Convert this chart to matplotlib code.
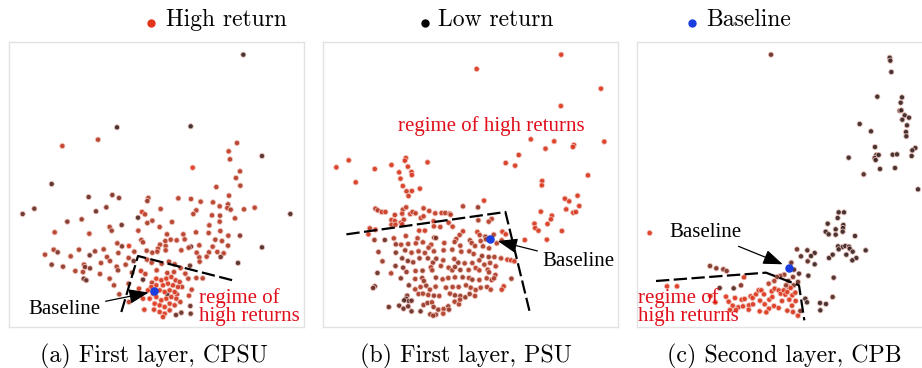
import matplotlib
matplotlib.use("Agg")
import matplotlib.pyplot as plt
from matplotlib.colors import LinearSegmentedColormap
from matplotlib.lines import Line2D

# embedding coordinates (x right, y down), c: 0 = low return, 1 = high return
CPSU_PTS = [
    (731, 73, 0), (352, 291, 0), (573, 288, 0), (295, 328, 0.6), (188, 347, 0.7), (712, 338, 0.6),
    (687, 363, 0.7), (691, 387, 0.6), (787, 377, 0.1), (579, 412, 0.95), (721, 423, 0.6), (709, 443, 0.6),
    (156, 461, 0.1), (650, 470, 0.6), (722, 466, 0.5), (267, 500, 0.2), (338, 494, 0.3), (358, 503, 0.3),
    (446, 503, 0.5), (443, 512, 0.4), (536, 504, 0.6), (574, 506, 0.6), (688, 496, 0.6), (603, 514, 0.6),
    (640, 516, 0.6), (685, 522, 0.5), (660, 528, 0.6), (683, 533, 0.6), (693, 538, 0.5), (733, 537, 0.6),
    (765, 532, 0.6), (69, 551, 0.2), (104, 535, 0.2), (289, 543, 0.2), (320, 531, 0.3), (427, 545, 0.8),
    (436, 552, 0.6), (483, 536, 0.6), (590, 540, 0.6), (581, 551, 0.6), (637, 555, 0.6), (661, 556, 0.5),
    (706, 564, 0.6), (872, 551, 0.1), (203, 574, 0.3), (246, 567, 0.4), (415, 562, 0.1), (366, 584, 0.2),
    (443, 578, 0.5), (458, 571, 0.5), (480, 590, 0.6), (517, 575, 0.6), (629, 585, 0.6), (660, 574, 0.6),
    (330, 590, 0.5), (336, 601, 0.4), (165, 606, 0.6), (269, 610, 0.6), (416, 601, 0.6), (502, 612, 0.6),
    (551, 612, 0.6), (589, 606, 0.6), (627, 608, 0.6), (662, 602, 0.6), (686, 616, 0.6), (721, 616, 0.3),
    (555, 627, 0.6), (425, 629, 0.5), (430, 636, 0.5), (497, 632, 0.6), (513, 628, 0.6), (531, 630, 0.6),
    (647, 628, 0.5), (667, 632, 0.6), (685, 646, 0.5), (388, 647, 0.95), (367, 648, 0.3), (353, 639, 0.5),
    (481, 643, 0.6), (498, 647, 0.6), (574, 649, 0.2), (599, 645, 0.6), (567, 652, 0.5), (639, 649, 0.6),
    (787, 651, 0.1), (162, 658, 0.5), (174, 666, 0.3), (238, 658, 0.5), (286, 663, 0.4), (312, 657, 0.5),
    (356, 668, 0.5), (404, 664, 0.5), (441, 661, 0.5), (458, 667, 0.5), (475, 655, 0.6), (473, 664, 0.6),
    (498, 660, 0.6), (545, 660, 0.6), (591, 667, 0.6), (628, 666, 0.6), (653, 665, 0.6), (672, 669, 0.6),
    (136, 673, 0.5), (213, 678, 0.5), (270, 675, 0.2), (322, 680, 0.5), (387, 683, 0.5), (402, 692, 0.2),
    (599, 681, 0.6), (621, 679, 0.6), (663, 680, 0.2), (600, 694, 0.6), (156, 703, 0.3), (190, 709, 0.4),
    (253, 703, 0.5), (304, 698, 0.5), (331, 692, 0.5), (351, 709, 0.5), (378, 703, 0.5), (442, 688, 0.6),
    (456, 697, 0.6), (486, 700, 0.6), (508, 694, 0.6), (525, 702, 0.6), (543, 713, 0.6), (571, 706, 0.2),
    (715, 698, 0.1), (227, 722, 0.5), (256, 710, 0.3), (271, 714, 0.3), (250, 725, 0.5), (355, 720, 0.4),
    (330, 745, 0.5), (397, 727, 0.4), (424, 722, 0.8), (437, 731, 0.7), (471, 720, 0.7), (503, 728, 0.7),
    (523, 725, 0.7), (557, 730, 0.7), (566, 745, 0.6), (590, 743, 0.6), (609, 744, 0.6), (252, 745, 0.2),
    (260, 750, 0.2), (301, 731, 0.5), (343, 765, 0.5), (430, 748, 0.1), (457, 757, 0.7), (418, 775, 0.8),
    (387, 760, 0.5), (359, 792, 0.5), (388, 815, 0.6), (430, 805, 0.9), (434, 838, 0.9), (463, 838, 0.9),
    (503, 792, 0.1), (532, 792, 0.7), (547, 770, 0.7), (568, 796, 0.7), (576, 778, 0.7), (542, 815, 0.7),
    (572, 827, 0.2), (573, 850, 0.2), (545, 847, 0.2), (529, 854, 0.2),
    (470, 745, 0.95), (485, 750, 0.9), (500, 745, 0.9), (515, 740, 0.85), (528, 750, 0.85), (540, 755, 0.8),
    (455, 770, 0.95), (470, 765, 0.95), (490, 765, 0.9), (505, 760, 0.9), (520, 765, 0.85), (535, 770, 0.8),
    (445, 780, 0.95), (460, 790, 1.0), (480, 780, 0.95), (495, 785, 0.95), (510, 780, 0.9), (525, 785, 0.85),
    (450, 805, 1.0), (470, 800, 1.0), (485, 810, 0.95), (500, 805, 0.95), (515, 800, 0.9), (530, 805, 0.85),
    (465, 820, 1.0), (480, 825, 0.95), (495, 830, 0.95), (510, 820, 0.9), (525, 825, 0.85), (480, 845, 0.95),
    (495, 850, 0.95), (510, 840, 0.9), (490, 860, 0.9),
]

PSU_PTS = [
    (738, 73, 0.95), (485, 116, 0.95), (857, 175, 0.95), (737, 227, 0.95), (647, 327, 0.95), (717, 333, 0.95),
    (867, 334, 0.95), (691, 355, 0.9), (776, 344, 0.9), (773, 350, 0.9), (611, 374, 0.9), (65, 411, 0.9),
    (102, 390, 0.9), (273, 383, 0.9), (270, 391, 0.9), (338, 396, 0.9), (572, 398, 0.9), (600, 406, 0.9),
    (180, 416, 0.9), (230, 404, 0.9), (279, 409, 0.9), (253, 426, 0.9), (290, 425, 0.9), (291, 434, 0.9),
    (818, 435, 0.9), (123, 456, 0.9), (257, 445, 0.9), (681, 452, 0.9), (680, 465, 0.9), (264, 467, 0.9),
    (291, 482, 0.9), (315, 475, 0.9), (275, 483, 0.8), (281, 497, 0.8), (787, 496, 0.9), (749, 505, 0.9),
    (762, 513, 0.9), (507, 511, 0.9), (792, 527, 0.9), (753, 537, 0.9), (182, 535, 0.6), (189, 540, 0.6),
    (201, 545, 0.8), (212, 545, 0.8), (240, 554, 0.7), (264, 538, 0.6), (274, 531, 0.7), (262, 550, 0.8),
    (286, 551, 0.8), (293, 545, 0.7), (302, 549, 0.7), (326, 534, 0.7), (343, 542, 0.7), (361, 549, 0.7),
    (380, 548, 0.7), (391, 548, 0.6), (404, 550, 0.7), (407, 553, 0.6), (444, 528, 0.5), (489, 531, 0.4),
    (677, 544, 0.9), (774, 547, 0.9), (782, 545, 0.9), (710, 556, 0.9), (707, 567, 0.9), (230, 569, 0.8),
    (240, 572, 0.8), (258, 577, 0.8), (267, 568, 0.7), (230, 583, 0.7), (242, 583, 0.8), (262, 582, 0.8),
    (318, 563, 0.7), (326, 558, 0.7), (356, 573, 0.8), (401, 577, 0.7), (490, 570, 0.5), (530, 566, 0.6),
    (521, 574, 0.6), (658, 580, 0.9), (697, 581, 0.9), (660, 593, 0.9), (670, 601, 0.9), (165, 594, 0.7),
    (161, 612, 0.9), (182, 598, 0.9), (313, 601, 0.8), (330, 601, 0.8), (357, 588, 0.7), (376, 590, 0.7),
    (413, 589, 0.7), (444, 603, 0.7), (562, 604, 0.9), (572, 612, 0.9), (740, 602, 0.9), (629, 629, 0.9),
    (695, 628, 0.9), (179, 629, 0.4), (210, 629, 0.2), (237, 624, 0.6), (273, 617, 0.6), (308, 624, 0.6),
    (358, 622, 0.3), (363, 623, 0.3), (434, 614, 0.6), (487, 605, 0.8), (494, 614, 0.6), (511, 619, 0.4),
    (513, 627, 0.4), (536, 613, 0.5), (424, 626, 0.6), (465, 630, 0.5), (497, 632, 0.6), (525, 624, 0.6),
    (545, 639, 0.6), (560, 630, 0.6), (191, 665, 0.4), (243, 642, 0.4), (259, 643, 0.6), (280, 641, 0.5),
    (303, 639, 0.6), (324, 636, 0.6), (349, 643, 0.6), (341, 652, 0.5), (388, 638, 0.6), (419, 635, 0.5),
    (436, 646, 0.5), (470, 638, 0.5), (480, 647, 0.5), (504, 648, 0.5), (522, 654, 0.5), (243, 667, 0.3),
    (271, 660, 0.4), (290, 667, 0.5), (311, 663, 0.5), (330, 668, 0.5), (357, 663, 0.5), (386, 660, 0.5),
    (412, 658, 0.5), (439, 664, 0.5), (463, 663, 0.5), (476, 671, 0.5), (501, 677, 0.4), (521, 680, 0.4),
    (538, 680, 0.5), (558, 684, 0.6), (577, 688, 0.8), (588, 690, 0.8), (598, 693, 0.8), (203, 693, 0.4),
    (262, 684, 0.3), (279, 692, 0.3), (295, 696, 0.4), (314, 684, 0.4), (339, 684, 0.4), (354, 697, 0.4),
    (364, 685, 0.4), (385, 690, 0.5), (418, 686, 0.5), (430, 697, 0.4), (449, 699, 0.5), (472, 698, 0.5),
    (493, 690, 0.5), (508, 703, 0.5), (525, 698, 0.5), (542, 708, 0.6), (242, 707, 0.3), (265, 712, 0.3),
    (229, 729, 0.5), (275, 725, 0.4), (302, 722, 0.5), (323, 721, 0.4), (348, 711, 0.5), (352, 720, 0.5),
    (378, 707, 0.5), (401, 712, 0.5), (412, 720, 0.5), (420, 710, 0.4), (436, 719, 0.4), (461, 719, 0.5),
    (482, 713, 0.6), (493, 720, 0.6), (518, 718, 0.5), (522, 726, 0.5), (541, 734, 0.5), (188, 728, 0.2),
    (258, 744, 0.3), (301, 746, 0.5), (322, 743, 0.4), (327, 752, 0.4), (363, 742, 0.4), (383, 747, 0.5),
    (400, 743, 0.5), (420, 741, 0.5), (443, 741, 0.4), (462, 743, 0.5), (472, 748, 0.4), (493, 749, 0.5),
    (515, 744, 0.5), (530, 749, 0.5), (537, 744, 0.5), (589, 745, 0.4), (282, 765, 0.3), (301, 777, 0.5),
    (317, 770, 0.5), (334, 766, 0.4), (345, 778, 0.5), (362, 769, 0.5), (393, 772, 0.5), (413, 770, 0.5),
    (431, 770, 0.5), (453, 765, 0.5), (467, 772, 0.5), (482, 779, 0.5), (497, 772, 0.5), (516, 770, 0.5),
    (527, 778, 0.6), (566, 768, 0.8), (560, 778, 0.8), (180, 768, 0.2), (175, 773, 0.2), (277, 796, 0.3),
    (311, 791, 0.5), (324, 790, 0.5), (340, 794, 0.5), (357, 796, 0.4), (373, 797, 0.5), (405, 790, 0.5),
    (420, 795, 0.4), (436, 797, 0.4), (451, 801, 0.4), (464, 791, 0.4), (480, 797, 0.5), (274, 805, 0.1),
    (282, 812, 0.1), (268, 810, 0.1), (290, 811, 0.2), (222, 830, 0.2), (253, 826, 0.2), (266, 835, 0.2),
    (280, 828, 0.2), (290, 843, 0.2), (317, 843, 0.2), (326, 824, 0.4), (338, 818, 0.4), (351, 816, 0.5),
    (356, 830, 0.4), (370, 838, 0.4), (386, 836, 0.5), (400, 828, 0.4), (402, 838, 0.4), (419, 814, 0.5),
    (432, 822, 0.5), (435, 808, 0.5), (346, 852, 0.4), (363, 853, 0.4), (385, 850, 0.6), (355, 856, 0.4),
]

CPB_PTS = [
    (437, 73, 0.2), (793, 82, 0), (795, 91, 0), (798, 125, 0), (756, 199, 0), (830, 201, 0), (826, 217, 0),
    (823, 241, 0), (828, 240, 0), (838, 255, 0), (851, 262, 0), (831, 268, 0), (845, 285, 0), (703, 281, 0),
    (737, 303, 0), (842, 305, 0), (843, 318, 0), (749, 350, 0), (870, 353, 0), (861, 360, 0), (753, 374, 0),
    (760, 374, 0), (748, 383, 0), (751, 389, 0), (670, 382, 0), (802, 373, 0), (815, 372, 0), (859, 377, 0),
    (764, 416, 0), (809, 413, 0), (715, 432, 0.1), (878, 477, 0), (640, 546, 0), (656, 546, 0), (637, 563, 0),
    (654, 584, 0), (653, 593, 0), (652, 604, 0), (607, 580, 0), (631, 597, 0), (601, 604, 0), (610, 612, 0),
    (631, 613, 0), (689, 617, 0), (638, 648, 0), (652, 650, 0), (660, 647, 0), (671, 649, 0), (640, 657, 0),
    (673, 655, 0), (611, 683, 0), (622, 673, 0), (682, 664, 0), (663, 673, 0), (721, 660, 0), (693, 683, 0),
    (681, 690, 0), (546, 660, 0.05), (515, 657, 0.2), (527, 678, 0.1), (568, 668, 0), (557, 677, 0),
    (547, 693, 0.1), (568, 702, 0), (498, 697, 0.2), (506, 718, 0.1), (521, 730, 0.1), (549, 736, 0),
    (625, 742, 0.05), (503, 740, 0.3), (477, 733, 0.4), (465, 737, 0.4), (455, 740, 0.3), (489, 752, 0.2),
    (518, 755, 0.2), (254, 707, 0.3), (273, 714, 0.3), (294, 717, 0.3), (304, 722, 0.3), (356, 741, 0.9),
    (347, 765, 0.3), (283, 773, 0.1), (325, 774, 0.1), (125, 768, 0.95), (155, 768, 0.95), (73, 608, 0.95),
    (622, 800, 0.1), (584, 818, 0), (602, 821, 0), (585, 840, 0), (540, 805, 0), (545, 816, 0), (525, 842, 0.3),
    (430, 760, 0.6), (447, 752, 0.5), (490, 770, 0.6), (482, 765, 0.4), (505, 765, 0.3),
    (255, 797, 0.95), (270, 816, 0.95), (302, 799, 0.95), (329, 803, 0.95), (349, 808, 0.95), (358, 806, 0.95),
    (310, 814, 0.95), (322, 826, 0.95), (339, 831, 0.95), (353, 828, 0.95), (371, 825, 0.95), (383, 822, 0.95),
    (376, 798, 0.95), (382, 803, 0.95), (392, 792, 0.95), (400, 780, 0.95), (408, 780, 0.95), (416, 792, 0.95),
    (404, 811, 0.95), (418, 822, 0.95), (432, 808, 0.95), (439, 783, 0.95), (431, 835, 0.95), (446, 827, 0.95),
    (441, 800, 0.95), (448, 775, 0.9), (460, 780, 0.9), (466, 790, 0.95), (475, 780, 0.9), (480, 793, 0.95),
    (486, 785, 0.95), (496, 773, 0.9), (501, 795, 0.95), (510, 787, 0.9), (492, 808, 0.95), (470, 812, 0.9),
    (460, 833, 0.9), (486, 841, 0.9), (500, 826, 0.9), (511, 812, 0.9), (503, 845, 0.9), (518, 856, 0.95),
    (423, 846, 0.95), (403, 843, 0.95), (370, 838, 0.95), (314, 839, 0.95), (332, 839, 0.95),
]

BASELINES = [(464, 783), (526, 625), (490, 714)]
XLIMS = [(28, 913), (25, 908), (35, 920)]

# dashed "regime of high returns" boundaries
DASH_X = [[365, 415, 707], [95, 571, 645], [92, 422, 521, 537]]
DASH_Y = [[845, 677, 752], [612, 545, 850], [752, 727, 765, 870]]

CAPTIONS = ["(a) First layer, CPSU", "(b) First layer, PSU", "(c) Second layer, CPB"]
LEGEND_LABELS = ["High return", "Low return", "Baseline"]

RED = "#e3341a"
DARK = "#362424"
BLUE = "#1a3ee0"
TEXT_RED = "#e0101c"
cmap = LinearSegmentedColormap.from_list("ret", [(0, DARK), (0.5, "#a83a26"), (1, RED)])

fig = plt.figure(figsize=(9.22, 3.68), dpi=100)
W, H = 922, 368
lefts = [9, 323, 637]

for i, pts in enumerate([CPSU_PTS, PSU_PTS, CPB_PTS]):
    ax = fig.add_axes([lefts[i] / W, (H - 327) / H, 295 / W, 285 / H])
    xs = [p[0] for p in pts]
    ys = [p[1] for p in pts]
    cs = [p[2] for p in pts]
    ax.scatter(xs, ys, c=cs, cmap=cmap, vmin=0, vmax=1, s=14,
               edgecolors="#f2c4bc", linewidths=0.6, alpha=0.92, zorder=2)
    ax.plot(DASH_X[i], DASH_Y[i], color="black", lw=1.6, dashes=(6, 2), zorder=3)
    bx, by = BASELINES[i]
    ax.scatter([bx], [by], s=26, color=BLUE, zorder=4)
    ax.set_xlim(*XLIMS[i])
    ax.set_ylim(890, 35)
    ax.set_xticks([])
    ax.set_yticks([])
    for sp in ax.spines.values():
        sp.set_color("#e2e2e2")
        sp.set_linewidth(1.0)

    arrow = dict(arrowstyle="-|>,head_length=0.8,head_width=0.3", color="black", lw=0.9)
    tfont = dict(family="Liberation Serif", fontsize=15)
    if i == 0:
        ax.annotate("Baseline", xy=(455, 785), xytext=(85, 838), ha="left", va="center",
                    arrowprops=arrow, zorder=5, **tfont)
        ax.text(598, 830, "regime of\nhigh returns", color=TEXT_RED, ha="left", va="center",
                linespacing=0.95, zorder=5, **tfont)
    elif i == 1:
        ax.annotate("Baseline", xy=(540, 630), xytext=(683, 693), ha="left", va="center",
                    arrowprops=arrow, zorder=5, **tfont)
        ax.text(250, 287, "regime of high returns", color=TEXT_RED, ha="left", va="center",
                zorder=5, **tfont)
    else:
        ax.annotate("Baseline", xy=(480, 705), xytext=(133, 608), ha="left", va="center",
                    arrowprops=arrow, zorder=5, **tfont)
        ax.text(38, 830, "regime of\nhigh returns", color=TEXT_RED, ha="left", va="center",
                linespacing=0.95, zorder=5, **tfont)

# captions under each panel
for cx, cap in zip([154, 466, 784], CAPTIONS):
    fig.text(cx / W, 1 - 362 / H, cap, ha="center", va="baseline", family="cmr10", fontsize=17.2)

# legend across the top
for mx, tx, col, lab in zip([151, 425, 692], [166, 438, 706], [RED, "black", BLUE], LEGEND_LABELS):
    fig.add_artist(Line2D([mx / W], [1 - 23 / H], marker="o", markersize=5, color=col,
                          linestyle="None", transform=fig.transFigure))
    fig.text(tx / W, 1 - 26 / H, lab, ha="left", va="baseline", family="cmr10", fontsize=17)

fig.savefig("out.png", dpi=100)
